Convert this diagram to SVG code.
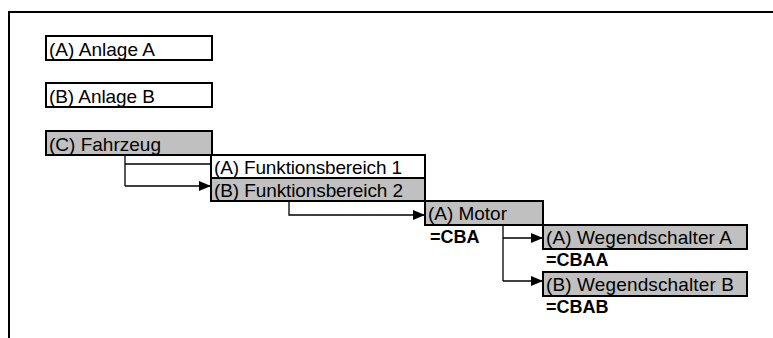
<svg xmlns="http://www.w3.org/2000/svg" width="773" height="338" viewBox="0 0 773 338">
<defs>
<style>
.box{stroke:#000;stroke-width:2}
.w{fill:#fff}
.g{fill:#c0c0c0}
.t{font-family:"Liberation Sans",Arial,sans-serif;font-size:19px;fill:#000}
.b{font-family:"Liberation Sans",Arial,sans-serif;font-size:18px;font-weight:bold;fill:#000}
.c{fill:none;stroke:#000;stroke-width:1.3}
</style>
<marker id="arr" markerUnits="userSpaceOnUse" markerWidth="12" markerHeight="10" refX="12" refY="5" orient="auto">
<path d="M0,0 L12,5 L0,10 Z" fill="#000"/>
</marker>
</defs>
<rect width="773" height="338" fill="#fff"/>
<path d="M9,338 V12 H773" fill="none" stroke="#000" stroke-width="2"/>
<g id="connectors">
<path class="c" d="M125,155 V186 M125,164 H211"/>
<path class="c" d="M125,186 H211" marker-end="url(#arr)"/>
<path class="c" d="M289,201 V215 H425" marker-end="url(#arr)"/>
<path class="c" d="M503,225 V281 M503,238 H543" marker-end="url(#arr)"/>
<path class="c" d="M503,281 H543" marker-end="url(#arr)"/>
</g>
<g id="anlageA"><rect class="box w" x="46" y="36" width="166" height="24"/><text class="t" x="49" y="56" textLength="106">(A) Anlage A</text></g>
<g id="anlageB"><rect class="box w" x="46" y="83" width="166" height="24"/><text class="t" x="49" y="103" textLength="106">(B) Anlage B</text></g>
<g id="fahrzeug"><rect class="box g" x="46" y="131" width="166" height="24"/><text class="t" x="49" y="151" textLength="112">(C) Fahrzeug</text></g>
<g id="fb1"><rect class="box w" x="211" y="155" width="214" height="23"/><text class="t" x="214" y="174" textLength="188">(A) Funktionsbereich 1</text></g>
<g id="fb2"><rect class="box g" x="211" y="178" width="214" height="23"/><text class="t" x="214" y="197" textLength="189">(B) Funktionsbereich 2</text></g>
<g id="motor"><rect class="box g" x="425" y="201" width="118" height="24"/><text class="t" x="428" y="220" textLength="79">(A) Motor</text><text class="b" x="430" y="243">=CBA</text></g>
<g id="wegA"><rect class="box g" x="543" y="225" width="204" height="24"/><text class="t" x="546" y="244" textLength="186">(A) Wegendschalter A</text><text class="b" x="546" y="266">=CBAA</text></g>
<g id="wegB"><rect class="box g" x="543" y="272" width="204" height="24"/><text class="t" x="546" y="291" textLength="188">(B) Wegendschalter B</text><text class="b" x="546" y="313">=CBAB</text></g>
</svg>
